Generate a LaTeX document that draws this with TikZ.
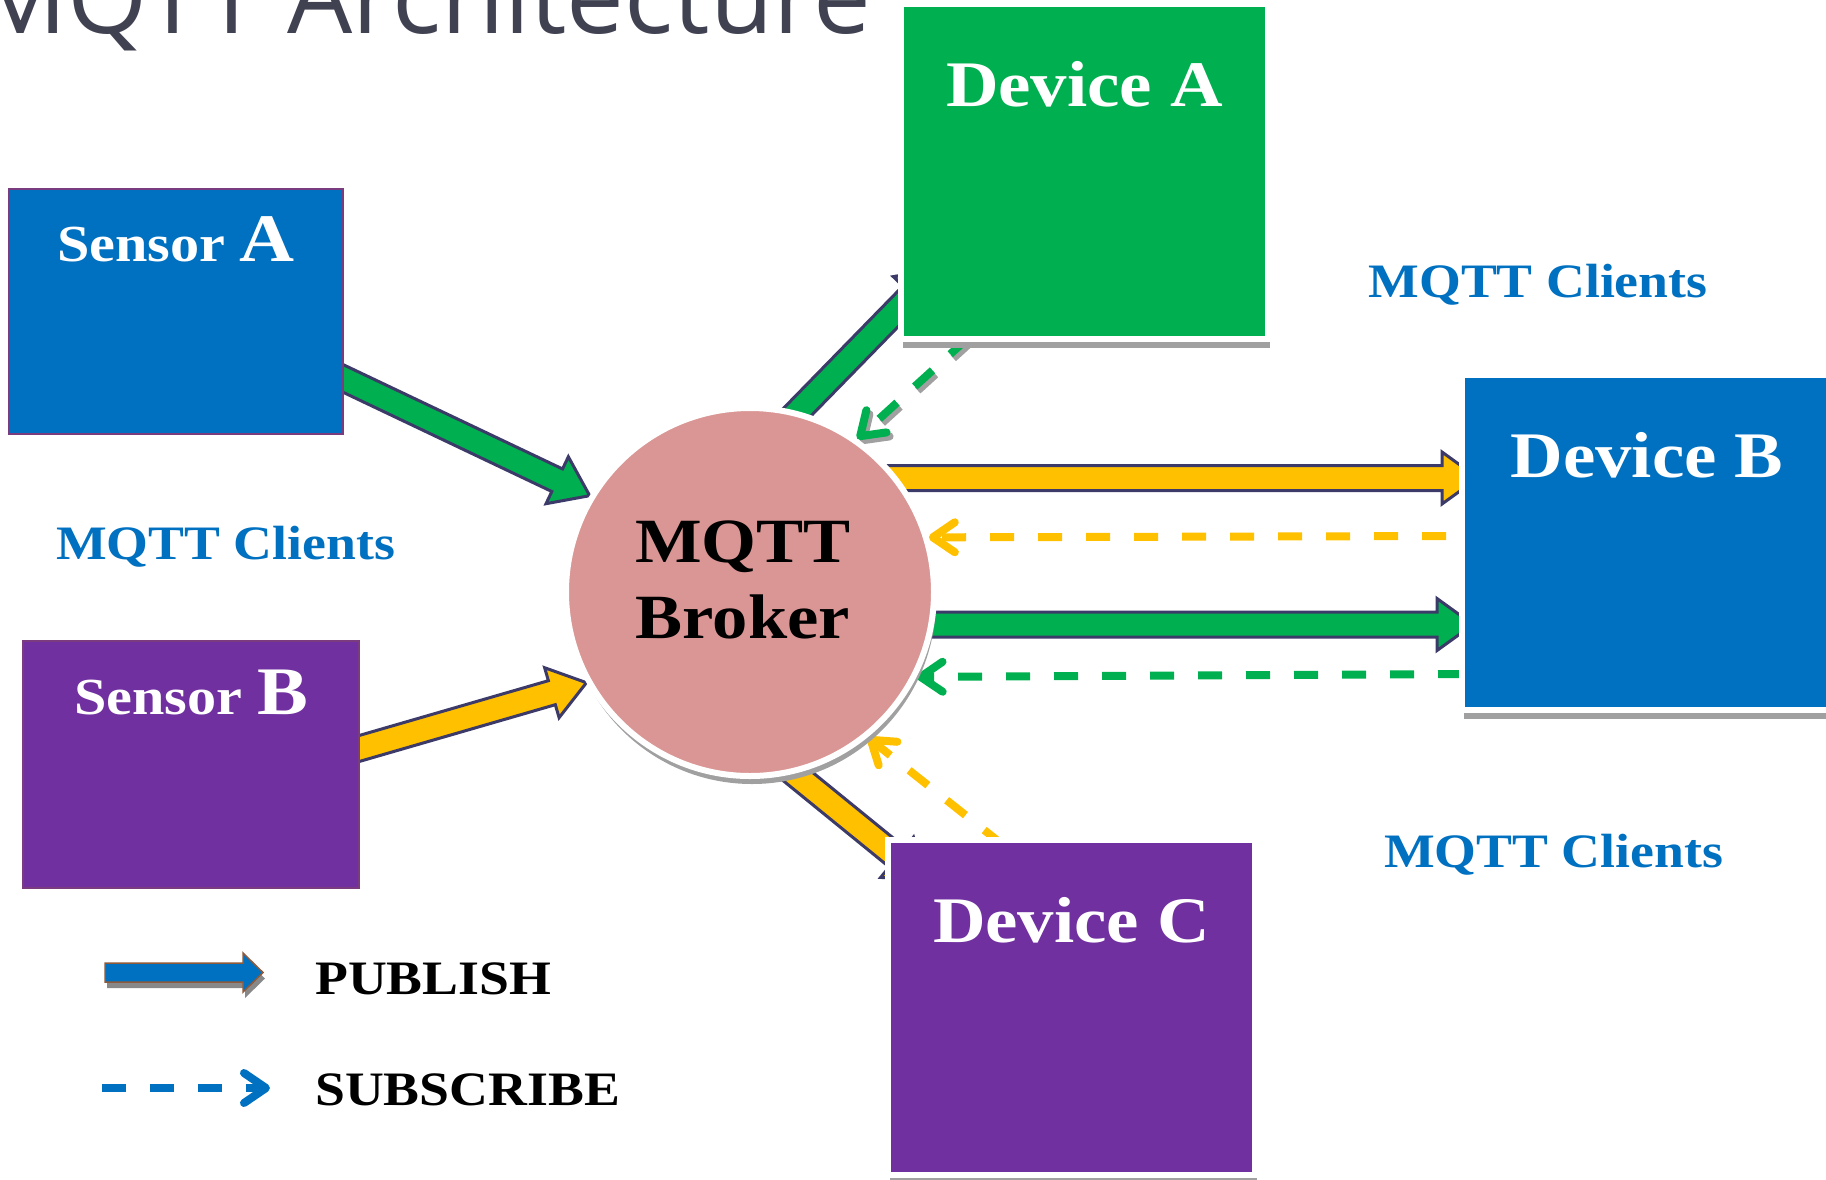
\documentclass[tikz,border=0pt]{standalone}
\usepackage{fontspec}
\setmainfont{Liberation Serif}[FakeStretch=1.12]
\newfontfamily\titlefont{Open Sans}
\usetikzlibrary{calc,arrows.meta,shadows}

\definecolor{myblue}{HTML}{0070C0}
\definecolor{mygreen}{HTML}{00B050}
\definecolor{myyellow}{HTML}{FFC000}
\definecolor{mypurple}{HTML}{7030A0}
\definecolor{brokerpink}{HTML}{D99694}
\definecolor{arrowedge}{HTML}{3C3A68}
\definecolor{sensoredge}{HTML}{7A3C7E}
\definecolor{titlegray}{HTML}{404252}
\definecolor{shadowgray}{HTML}{A0A0A0}
\definecolor{legendedge}{HTML}{8E5A3A}

\pgfdeclarelayer{arrows}
\pgfsetlayers{arrows,main}

% thick publish arrow: fill colour, start, tip
\newcommand{\fatarrow}[3]{%
  \filldraw[fill=#1, draw=arrowedge, line width=3pt, line join=miter]
    let \p1=(#2), \p2=(#3),
        \n1={atan2(\y2-\y1,\x2-\x1)}, \n2={veclen(\x2-\x1,\y2-\y1)}, \n3={\n2-36}
    in [shift={(\p1)}, rotate=\n1]
    (0pt,-12.5pt) -- (\n3,-12.5pt) -- (\n3,-26pt) -- (\n2,0pt)
    -- (\n3,26pt) -- (\n3,12.5pt) -- (0pt,12.5pt) -- cycle;
}

\tikzset{
  titletext/.style={font=\titlefont\fontsize{103}{110}\selectfont, text=titlegray, anchor=base west, inner sep=0pt},
  broker/.style={circle, fill=brokerpink, draw=white, line width=6pt, minimum size=368pt, inner sep=0pt,
    drop shadow={shadow xshift=2pt, shadow yshift=-8pt, fill=shadowgray, opacity=1}},
  brokertext/.style={align=center, inner sep=0pt, font=\fontsize{63}{76}\selectfont\bfseries},
  sensbox/.style={rectangle, inner sep=0pt, outer sep=0pt, draw=sensoredge, line width=2pt, text=white, anchor=north west,
    font=\bfseries},
  devbox/.style={rectangle, inner sep=0pt, outer sep=0pt, draw=white, line width=6pt, text=white, anchor=north west,
    minimum width=367pt, text height=102pt, text depth=233pt, font=\fontsize{65}{70}\selectfont\bfseries,
    drop shadow={shadow xshift=2pt, shadow yshift=-9pt, fill=shadowgray, opacity=1}},
  clients/.style={text=myblue, anchor=base, inner sep=0pt, font=\fontsize{48}{50}\selectfont\bfseries},
  legendtext/.style={anchor=base west, inner sep=0pt, font=\fontsize{48}{50}\selectfont\bfseries},
  subarrow/.style={line width=8pt, dash pattern=on 24pt off 24pt,
    -{Straight Barb[length=22pt, width=30pt, line cap=round, line join=round]}},
}

\begin{document}
\begin{tikzpicture}[x=1pt, y=-1pt]
  \useasboundingbox (0,0) rectangle (1826,1179);

  % Title
  \node[titletext] (title) at (-26,33) {MQTT Architecture};

  % Broker
  \node[broker] (broker) at (750,592) {};
  \node[brokertext] (brokerlbl) at (743,580) {MQTT\\Broker};

  % Clients
  \node[sensbox, fill=myblue, minimum width=334pt, text height=72pt, text depth=173pt] (sensA) at (9,189)
    {\fontsize{52}{56}\selectfont Sensor \fontsize{68}{72}\selectfont A};
  \node[sensbox, fill=mypurple, minimum width=336pt, text height=73pt, text depth=174pt] (sensB) at (23,641)
    {\fontsize{52}{56}\selectfont Sensor \fontsize{68}{72}\selectfont B};
  \node[devbox, fill=mygreen] (devA) at (901,4) {Device A};
  \node[devbox, fill=myblue, minimum width=370pt] (devB) at (1462,375) {Device B};
  \node[devbox, fill=mypurple] (devC) at (888,840) {Device C};

  \node[clients] (clientsL) at (225.5,559) {MQTT Clients};
  \node[clients] (clientsTR) at (1538,297) {MQTT Clients};
  \node[clients] (clientsBR) at (1553.5,867) {MQTT Clients};

  % Arrows under the nodes
  \begin{pgfonlayer}{arrows}
    % publish
    \fatarrow{mygreen}{$(sensA.east)+(-5,64.5)$}{broker.149}
    \fatarrow{myyellow}{$(sensB.east)+(-5,-14.5)$}{broker.209}
    \fatarrow{mygreen}{$(broker.center)+(20,-152)$}{$(devA.south west)+(36,-70)$}
    \fatarrow{myyellow}{$(broker.center)+(100,-114)$}{$(devB.west)+(16,-64.5)$}
    \fatarrow{mygreen}{$(broker.center)+(100,32.5)$}{$(devB.west)+(11,82)$}
    \fatarrow{myyellow}{$(broker.center)+(3,148)$}{$(devC.north west)+(37,40)$}
    % subscribe
    \draw[subarrow, shadowgray, transform canvas={xshift=3pt, yshift=-4pt}] ($(devA.south west)+(67,-1)$) -- (broker.55);
    \draw[subarrow, mygreen] ($(devA.south west)+(67,-1)$) -- (broker.55);
    \draw[subarrow, myyellow] ($(devB.west)+(-16,-6.5)$) -- (broker.17);
    \draw[subarrow, mygreen] ($(devB.west)+(0,131.5)$) -- (broker.333);
    \draw[subarrow, myyellow] ($(devC.north west)+(115,5)$) -- (broker.309);
  \end{pgfonlayer}

  % Legend
  \fill[shadowgray!85!black, shift={(2,6)}] (105,963) -- (243,963) -- (243,953) -- (263,972.5)
    -- (243,992) -- (243,982) -- (105,982) -- cycle;
  \filldraw[fill=myblue, draw=legendedge, line width=1.5pt] (105,963) -- (243,963) -- (243,953) -- (263,972.5)
    -- (243,992) -- (243,982) -- (105,982) -- cycle;
  \node[legendtext] (pubtxt) at (315,994) {PUBLISH};

  \coordinate (subS) at (102,1088);
  \coordinate (subE) at (270,1088);
  \draw[subarrow, myblue] (subS) -- (subE);
  \node[legendtext] (subtxt) at (315,1105) {SUBSCRIBE};
\end{tikzpicture}
\end{document}
